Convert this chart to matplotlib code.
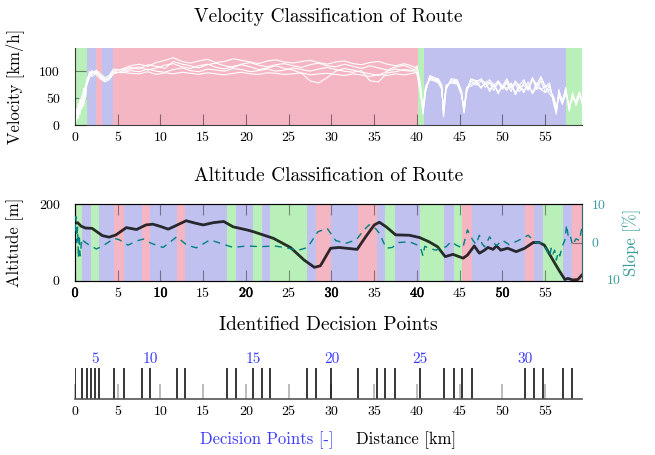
import numpy as np
import matplotlib
matplotlib.use("Agg")
from matplotlib import pyplot as plt
import matplotlib.patheffects as pe

plt.rcParams['font.family'] = ['cmr10', 'DejaVu Serif']
plt.rcParams['axes.unicode_minus'] = False

# colours of the route classes
COL = {'g': '#b9efb9', 'b': '#c1c1ef', 'p': '#f5b6c4'}
TEAL = '#008080'
TEAL_TXT = '#3a9c9c'
BLUE_TXT = '#3b3bff'

# ---------------- data ----------------
# decision points along the route [km]
dec_km = [0, 0.82, 1.37, 1.88, 2.38, 2.85, 4.57, 5.78, 7.81, 8.83, 11.88, 12.89,
          17.81, 18.83, 20.86, 21.88, 22.81, 27.11, 28.13, 30.0, 33.13, 35.31,
          36.29, 37.42, 40.39, 43.2, 44.34, 45.31, 46.41, 52.66, 53.63, 54.77,
          57.07, 58.16]

# velocity classification segments
vel_edges = [0, 1.38, 2.44, 3.15, 4.49, 40.16, 40.86, 57.42, 59.3]
vel_class = ['g', 'b', 'p', 'b', 'p', 'g', 'b', 'g']

# altitude classification segments
alt_edges = [0, 0.82, 1.88, 2.85, 4.57, 5.78, 7.81, 8.83, 11.88, 12.89, 17.81,
             18.83, 20.86, 21.88, 22.81, 27.11, 28.13, 30.0, 33.13, 35.31, 36.29,
             37.42, 40.39, 43.2, 44.34, 45.31, 46.41, 52.66, 53.63, 54.77, 57.07,
             58.16, 59.3]
alt_class = ['g', 'b', 'g', 'b', 'p', 'b', 'p', 'b', 'p', 'b', 'g', 'b', 'g', 'b',
             'g', 'b', 'p', 'b', 'p', 'b', 'g', 'b', 'g', 'b', 'g', 'p', 'b', 'p',
             'b', 'g', 'b', 'p']

# velocity runs [km/h] sampled at vel_km
vel_km_a = [0, 0.2, 0.4, 0.6, 0.8, 1.0, 1.2, 1.4, 1.7, 2.0, 2.5, 3.0, 3.5, 4.0, 4.5]
vel_km_b = [5.5, 6.5, 7.5, 8.5, 9.5, 10.5, 11.5, 12.5, 13.5, 14.5, 15.5, 16.5,
            17.5, 18.5, 19.5, 20.5, 21.5, 22.5, 23.5, 24.5, 25.5, 26.5, 27.5,
            28.5, 29.5, 30.5, 31.5, 32.5, 33.5, 34.5, 35.5, 36.5, 37.5, 38.5, 39.5]
vel_km_c = [40.0, 40.4, 40.7, 41.0, 41.5, 42.0, 42.5, 42.9, 43.1, 43.4, 44.0, 44.7,
            45.2, 45.5, 45.8, 46.3, 47, 47.5, 48, 48.5, 49, 49.5, 50, 50.5, 51,
            51.5, 52, 52.5, 53, 53.5, 54, 54.5, 55, 55.5, 56, 56.3, 56.6, 57, 57.4,
            57.8, 58.2, 58.6, 59.0, 59.3]
vel_km = vel_km_a + vel_km_b + vel_km_c

run1 = ([0, 25, 15, 45, 30, 60, 48, 80, 92, 97, 100, 88, 82, 90, 100]
        + [104, 110, 113, 109, 116, 120, 125, 118, 115, 119, 122, 116, 118, 123, 120,
           117, 114, 119, 121, 117, 115, 118, 120, 116, 113, 117, 119, 114, 112, 116,
           118, 113, 110, 114, 109]
        + [105, 70, 22, 65, 90, 86, 84, 72, 18, 68, 84, 82, 62, 24, 64, 84, 80, 86, 76,
           80, 70, 78, 66, 82, 68, 76, 62, 80, 66, 84, 72, 88, 70, 74, 42, 24, 62, 44,
           66, 28, 56, 40, 58, 46])
run2 = ([0, 10, 35, 20, 55, 40, 70, 85, 95, 90, 96, 92, 85, 87, 97]
        + [98, 96, 95, 99, 94, 97, 95, 98, 96, 94, 97, 95, 93, 96, 98, 95, 94, 97, 96,
           94, 95, 97, 93, 95, 96, 94, 92, 95, 93, 90, 94, 92, 95, 93, 96]
        + [98, 62, 28, 72, 86, 84, 80, 68, 25, 72, 80, 78, 58, 28, 68, 76, 80, 70, 78,
           66, 74, 62, 72, 68, 76, 60, 74, 64, 72, 60, 78, 66, 72, 58, 48, 30, 56, 38,
           60, 34, 50, 44, 62, 40])
run3 = ([0, 30, 20, 38, 50, 35, 65, 75, 88, 98, 93, 85, 80, 84, 95]
        + [100, 104, 108, 102, 106, 111, 114, 108, 105, 110, 113, 107, 104, 109, 112,
           108, 103, 106, 110, 105, 102, 96, 82, 78, 88, 100, 105, 102, 98, 95, 92,
           100, 104, 101, 100]
        + [110, 75, 20, 60, 92, 88, 86, 74, 15, 65, 86, 84, 64, 22, 60, 86, 82, 84, 78,
           84, 74, 82, 72, 86, 70, 80, 74, 84, 68, 88, 74, 90, 72, 78, 38, 20, 66, 40,
           70, 26, 60, 36, 54, 50])
run4 = ([0, 15, 40, 28, 42, 68, 55, 82, 100, 94, 102, 95, 88, 92, 104]
        + [102, 107, 104, 112, 109, 105, 118, 113, 110, 106, 112, 115, 110, 107, 113,
           116, 111, 108, 112, 114, 110, 107, 112, 115, 110, 108, 113, 109, 105, 110,
           106, 102, 108, 111, 104]
        + [95, 58, 30, 68, 84, 82, 78, 66, 28, 74, 78, 76, 56, 30, 70, 72, 78, 68, 80,
           62, 76, 58, 74, 64, 78, 56, 72, 60, 80, 58, 70, 66, 60, 66, 52, 34, 52, 42,
           56, 38, 48, 46, 60, 42])
run5 = ([0, 20, 12, 50, 35, 52, 72, 78, 90, 101, 97, 90, 84, 86, 99]
        + [97, 101, 99, 104, 100, 98, 103, 106, 101, 99, 104, 102, 100, 105, 103, 99,
           101, 104, 100, 102, 106, 103, 100, 104, 107, 103, 100, 98, 101, 82, 80, 97,
           99, 103, 101]
        + [102, 66, 25, 70, 88, 85, 82, 70, 22, 70, 82, 80, 60, 26, 66, 82, 74, 82, 70,
           78, 64, 80, 68, 78, 62, 82, 68, 74, 64, 86, 66, 82, 62, 72, 45, 28, 60, 46,
           64, 32, 54, 42, 56, 48])
runs = [run1, run2, run3, run4, run5]

# altitude profile [m]
alt_km = [0, 0.3, 0.7, 1.2, 2.0, 3.2, 4.0, 4.8, 6.0, 7.2, 8.3, 9.1, 10.0, 10.9, 11.5,
          13.0, 14.0, 15.0, 16.2, 17.4, 18.5, 20.1, 20.9, 23.2, 25.2, 26.8, 28.0,
          28.7, 29.9, 30.9, 33.0, 34.0, 35.0, 35.6, 36.4, 37.5, 39.1, 40.3, 41.4,
          42.4, 43.3, 44.2, 45.4, 45.9, 46.7, 47.3, 47.9, 48.3, 48.9, 49.3, 49.8,
          50.6, 51.6, 52.6, 53.6, 54.3, 54.9, 55.9, 56.7, 57.3, 57.65, 58.2, 58.8, 59.3]
alt_m = [150, 152, 143, 138, 137, 118, 114, 120, 139, 134, 146, 148, 142, 135, 141,
         157, 151, 146, 152, 155, 141, 133, 128, 111, 87, 54, 35, 39, 85, 87, 82, 115,
         146, 153, 141, 120, 119, 113, 102, 89, 63, 69, 59, 67, 91, 72, 80, 87, 82, 91,
         80, 85, 76, 85, 100, 100, 93, 54, 24, 3, 6, 2, 3, 15]

# slope [%]
slope_km = [0, 0.1, 0.2, 0.3, 0.4, 0.5, 0.6, 0.8, 1.1, 1.7, 2.5, 3.25, 4.6, 5.2, 6.2,
            7.2, 8.0, 8.9, 10.3, 11.9, 13.1, 14.2, 15.8, 17.0, 18.5, 20.1, 21.7, 23.3,
            24.8, 26.0, 27.2, 28.4, 29.5, 30.5, 31.7, 32.9, 33.8, 34.4, 35.0, 35.6,
            36.4, 37.1, 37.9, 39.1, 40.1, 40.5, 40.7, 40.9, 41.4, 42.2, 43.4, 44.0,
            44.6, 45.35, 45.9, 46.5, 46.9, 47.3, 47.6, 47.9, 48.5, 48.9, 49.3, 50.0,
            50.8, 52.0, 53.0, 53.9, 54.7, 55.2, 55.5, 55.7, 55.9, 56.1, 56.3, 56.5,
            56.7, 57.0, 57.3, 57.5, 57.7, 57.9, 58.2, 58.6, 59.0, 59.3]
slope_pct = [3, 6.8, 0, 4, -4, 2, -3.5, 1, 0.2, -0.7, -1.7, -0.9, 1.1, 0.7, -0.7,
             0.4, 0.9, -0.2, -1.3, 1.5, -0.7, -1.4, 0.7, -0.2, -1.3, -0.9, -1.1, -0.9,
             -1.4, -2.1, -1.3, 2.8, 3.7, 0.5, -0.2, 0.7, 3.3, 4.6, 4.1, 2.4, -1.5, -1.3,
             0, 0.2, -0.7, -2.0, -3.5, -1.0, -1.5, -2.0, -1.1, 0.2, -0.7, -1.5, 3.3,
             0.7, -0.5, 1.9, -0.3, -1.1, 1.5, 0.0, -0.8, 0.6, -0.6, 0.7, 1.9, 0.0, -0.2,
             -2.0, -3.7, -1.5, -3.0, -2.0, -4.6, -2.5, -3.5, -1.0, 0.7, 4.6, 1.5, 2.0,
             -0.7, 1.0, 0.5, 4.1]

XMAX = 59.3
xt = list(range(0, 56, 5))
TICK_FS = 10
LAB_FS = 12
TITLE_FS = 14


def spans(ax, edges, classes):
    for a, b, c in zip(edges[:-1], edges[1:], classes):
        ax.axvspan(a, b, color=COL[c], lw=0, zorder=0)


fig = plt.figure(figsize=(6.55, 4.55), dpi=100)

# ---------------- velocity ----------------
ax1 = fig.add_axes([75 / 655, 1 - 125 / 455, 507 / 655, 77 / 455])
spans(ax1, vel_edges, vel_class)
for r in runs:
    ax1.plot(vel_km, r, color='white', lw=0.8, zorder=2)
ax1.set_xlim(0, XMAX)
ax1.set_ylim(0, 143)
ax1.set_xticks(xt)
ax1.set_yticks([0, 50, 100])
ax1.tick_params(direction='in', length=8, color=(0, 0, 0, 0.45), labelsize=TICK_FS, pad=5)
ax1.tick_params(axis='y', pad=11)
for s in ['top', 'right']:
    ax1.spines[s].set_visible(False)
for s in ['left', 'bottom']:
    ax1.spines[s].set_color((0, 0, 0, 0.75))
ax1.set_ylabel('Velocity [km/h]', fontsize=LAB_FS, labelpad=11)
ax1.set_title('Velocity Classification of Route', fontsize=TITLE_FS, pad=19)

# ---------------- altitude ----------------
ax2 = fig.add_axes([75 / 655, 1 - 280.7 / 455, 507 / 655, 76.4 / 455])
spans(ax2, alt_edges, alt_class)
ax2.plot(alt_km, alt_m, color='black', alpha=0.8, lw=2, zorder=3)
ax2.set_xlim(0, XMAX)
ax2.set_ylim(0, 200)
ax2.set_xticks(xt)
ax2.set_yticks([0, 200])
ax2.tick_params(direction='in', length=8, color=(0, 0, 0, 0.4), labelsize=TICK_FS,
                top=True, pad=5)
ax2.tick_params(axis='y', pad=11)
for s in ax2.spines.values():
    s.set_color((0, 0, 0, 0.7))
for lbl in ax2.get_xticklabels():
    if lbl.get_text() in ('0', '10', '20', '30', '40', '50'):
        lbl.set_path_effects([pe.withStroke(linewidth=0.35, foreground='black')])
ax2.set_ylabel('Altitude [m]', fontsize=LAB_FS, labelpad=11)
ax2.set_title('Altitude Classification of Route', fontsize=TITLE_FS, pad=17)

ax2r = ax2.twinx()
ax2r.plot(slope_km, slope_pct, color=TEAL, lw=1, ls=(0, (5, 4)), zorder=3)
ax2r.set_ylim(-10, 10)
ax2r.set_yticks([-10, 0, 10])
ax2r.set_yticklabels(['', '0', '10'])
ax2r.tick_params(direction='in', length=7, color=(0, 0, 0, 0.4), labelsize=TICK_FS,
                 labelcolor=TEAL_TXT, pad=7)
ax2r.annotate('10', xy=(1, 0), xycoords='axes fraction', xytext=(18, 0),
              textcoords='offset points', color=TEAL_TXT, fontsize=TICK_FS,
              ha='left', va='center')
ax2r.spines['right'].set_color('#2f6f6f')
ax2r.set_ylabel('Slope [%]', fontsize=LAB_FS, color=TEAL_TXT, labelpad=12)

# ---------------- decision points ----------------
ax3 = fig.add_axes([75 / 655, 1 - 399.3 / 455, 507 / 655, 31.6 / 455])
ax3.vlines(dec_km, 0, 1, color='black', lw=1.1)
for i in range(5, len(dec_km) + 1, 5):
    ax3.text(dec_km[i - 1], 1.06, str(i), color=BLUE_TXT, fontsize=11,
             ha='center', va='bottom', transform=ax3.get_xaxis_transform())
ax3.set_xlim(0, XMAX)
ax3.set_ylim(0, 1)
ax3.set_xticks(xt)
ax3.set_yticks([])
ax3.tick_params(axis='x', direction='in', length=10.5, width=1.2, color='#b0b0b0',
                labelsize=TICK_FS, pad=5)
for s in ['top', 'right', 'left']:
    ax3.spines[s].set_visible(False)
ax3.spines['bottom'].set_color('#555555')
ax3.spines['bottom'].set_linewidth(1.2)
ax3.set_title('Identified Decision Points', fontsize=TITLE_FS, pad=27)

fig.text(267 / 655, 1 - 440 / 455, 'Decision Points [-]', color=BLUE_TXT,
         fontsize=LAB_FS, ha='center', va='center')
fig.text(406 / 655, 1 - 440 / 455, 'Distance [km]', color='black',
         fontsize=LAB_FS, ha='center', va='center')

fig.savefig('out.png', dpi=100)
